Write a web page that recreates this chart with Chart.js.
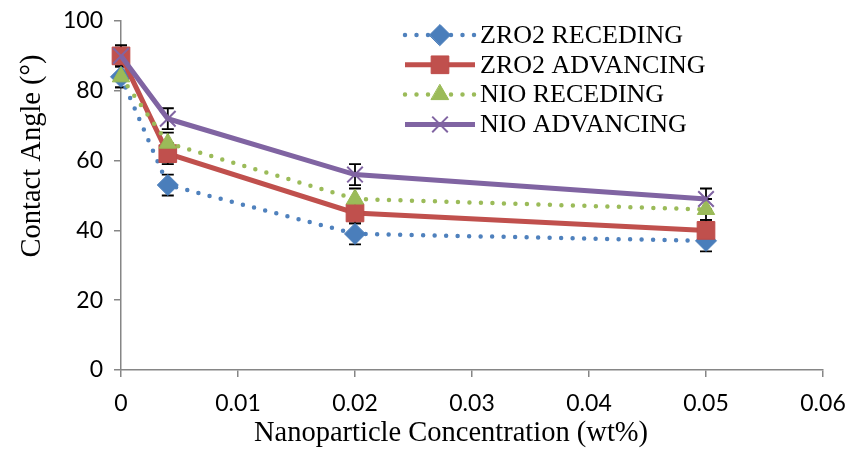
<!DOCTYPE html>
<html>
<head>
<meta charset="utf-8">
<script src="https://cdn.jsdelivr.net/npm/chart.js@4"></script>
<style>
  html, body { margin: 0; padding: 0; background: #fff; }
  #wrap { width: 850px; height: 454px; }
</style>
</head>
<body>
<div id="wrap"><canvas id="angleChart" width="850" height="454"></canvas></div>
<script>
// concentrations (wt%)
const concentrations = [0, 0.004, 0.02, 0.05];
const zro2Receding = [84, 53, 39, 37];
const zro2Advancing = [90, 62, 45, 40];
const nioReceding = [84, 65, 49, 46];
const nioAdvancing = [90, 72, 56, 49];
const errorSize = [3, 3, 3, 3];
const xTicks = [0, 0.01, 0.02, 0.03, 0.04, 0.05, 0.06];
const yTicks = [0, 20, 40, 60, 80, 100];
const xTitle = 'Nanoparticle Concentration (wt%)';
const yTitle = 'Contact Angle (°)';

const tickFont = { family: "'Lato', sans-serif", size: 23 };
const serif = "'Liberation Serif', 'Times New Roman', serif";
const axisGrey = '#868686';

function points(values) {
    return values.map((v, i) => ({ x: concentrations[i], y: v }));
}

// error bars, drawn under the lines and markers
const errorBars = {
    id: 'errorBars',
    beforeDatasetsDraw(chart) {
        const { ctx, scales: { x, y } } = chart;
        ctx.save();
        ctx.strokeStyle = '#000';
        ctx.lineWidth = 1.8;
        chart.data.datasets.forEach(ds => {
            ds.data.forEach((p, i) => {
                const px = x.getPixelForValue(p.x);
                const top = y.getPixelForValue(p.y + errorSize[i]);
                const bot = y.getPixelForValue(p.y - errorSize[i]);
                ctx.beginPath();
                ctx.moveTo(px, top); ctx.lineTo(px, bot);
                ctx.moveTo(px - 6, top); ctx.lineTo(px + 6, top);
                ctx.moveTo(px - 6, bot); ctx.lineTo(px + 6, bot);
                ctx.stroke();
            });
        });
        ctx.restore();
    }
};

// legend inside the plot + axis titles (serif, a bit off-centre like the original)
const extras = {
    id: 'extras',
    afterDraw(chart) {
        const { ctx, chartArea } = chart;
        const x0 = chartArea.left + 284;
        const y0 = chartArea.top + 14;
        ctx.save();
        chart.data.datasets.forEach((ds, i) => {
            const cy = y0 + i * 29.8;
            ctx.beginPath();
            ctx.strokeStyle = ds.borderColor;
            ctx.lineWidth = ds.borderWidth;
            ctx.lineCap = ds.borderCapStyle || 'butt';
            ctx.setLineDash(ds.borderDash || []);
            ctx.moveTo(x0, cy);
            ctx.lineTo(x0 + 70, cy);
            ctx.stroke();
            ctx.setLineDash([]);
            ctx.fillStyle = ds.pointBackgroundColor;
            ctx.strokeStyle = ds.pointBorderColor;
            ctx.lineWidth = ds.pointBorderWidth;
            Chart.helpers.drawPoint(ctx, { pointStyle: ds.pointStyle, radius: ds.pointRadius, rotation: 0, borderWidth: ds.pointBorderWidth }, x0 + 35, cy);
            ctx.fillStyle = '#000';
            ctx.font = '26px ' + serif;
            ctx.textBaseline = 'middle';
            ctx.textAlign = 'left';
            ctx.fillText(ds.label, x0 + 75, cy + 1);
        });

        ctx.fillStyle = '#000';
        ctx.font = '28.5px ' + serif;
        ctx.textAlign = 'center';
        ctx.textBaseline = 'alphabetic';
        ctx.fillText(xTitle, 451, 441);

        ctx.translate(40, 156);
        ctx.rotate(-Math.PI / 2);
        ctx.fillText(yTitle, 0, 0);
        ctx.restore();
    }
};

const ctx = document.getElementById('angleChart').getContext('2d');
const angleChart = new Chart(ctx, {
    type: 'line',
    data: {
        datasets: [{
            label: 'ZRO2 RECEDING',
            data: points(zro2Receding),
            borderColor: '#4F81BD',
            borderWidth: 4.5,
            borderDash: [0, 11.5],
            borderCapStyle: 'round',
            pointStyle: 'rectRot',
            pointRadius: 10.5,
            pointBackgroundColor: '#4A7EBB',
            pointBorderColor: '#4A7EBB',
            pointBorderWidth: 1,
            clip: false,
            order: 4
        }, {
            label: 'ZRO2 ADVANCING',
            data: points(zro2Advancing),
            borderColor: '#C0504D',
            borderWidth: 5,
            pointStyle: 'rect',
            pointRadius: 12.5,
            pointBackgroundColor: '#C0504D',
            pointBorderColor: '#BE4B48',
            pointBorderWidth: 1,
            clip: false,
            order: 3
        }, {
            label: 'NIO RECEDING',
            data: points(nioReceding),
            borderColor: '#9BBB59',
            borderWidth: 4.5,
            borderDash: [0, 11.5],
            borderCapStyle: 'round',
            pointStyle: 'triangle',
            pointRadius: 10,
            pointBackgroundColor: '#9BBB59',
            pointBorderColor: '#98B954',
            pointBorderWidth: 1,
            clip: false,
            order: 2
        }, {
            label: 'NIO ADVANCING',
            data: points(nioAdvancing),
            borderColor: '#8064A2',
            borderWidth: 5,
            pointStyle: 'crossRot',
            pointRadius: 11,
            pointBackgroundColor: '#8064A2',
            pointBorderColor: '#8064A2',
            pointBorderWidth: 2,
            clip: false,
            order: 1
        }]
    },
    options: {
        responsive: false,
        animation: false,
        layout: { padding: { top: 21, right: 27, left: 0, bottom: 0 } },
        plugins: {
            legend: { display: false },
            tooltip: { enabled: false }
        },
        scales: {
            x: {
                type: 'linear',
                min: 0,
                max: 0.06,
                afterBuildTicks: scale => { scale.ticks = xTicks.map(v => ({ value: v })); },
                afterFit: scale => {
                    scale.height = 84;
                    scale.paddingRight = 0;
                    scale.paddingLeft = 0;
                },
                grid: { display: true, drawOnChartArea: false, color: axisGrey, tickLength: 7, lineWidth: 1.5 },
                border: { color: axisGrey, width: 1.5 },
                ticks: { color: '#000', font: tickFont, padding: 13, maxRotation: 0, callback: v => String(v) },
                title: { display: false }
            },
            y: {
                min: 0,
                max: 100,
                afterBuildTicks: scale => { scale.ticks = yTicks.map(v => ({ value: v })); },
                afterFit: scale => {
                    scale.width = 121;
                    scale.paddingTop = 0;
                    scale.paddingBottom = 0;
                },
                grid: { display: true, drawOnChartArea: false, color: axisGrey, tickLength: 7, lineWidth: 1.5 },
                border: { color: axisGrey, width: 1.5 },
                ticks: { color: '#000', font: tickFont, padding: 11 },
                title: { display: false }
            }
        }
    },
    plugins: [errorBars, extras]
});
</script>
</body>
</html>
